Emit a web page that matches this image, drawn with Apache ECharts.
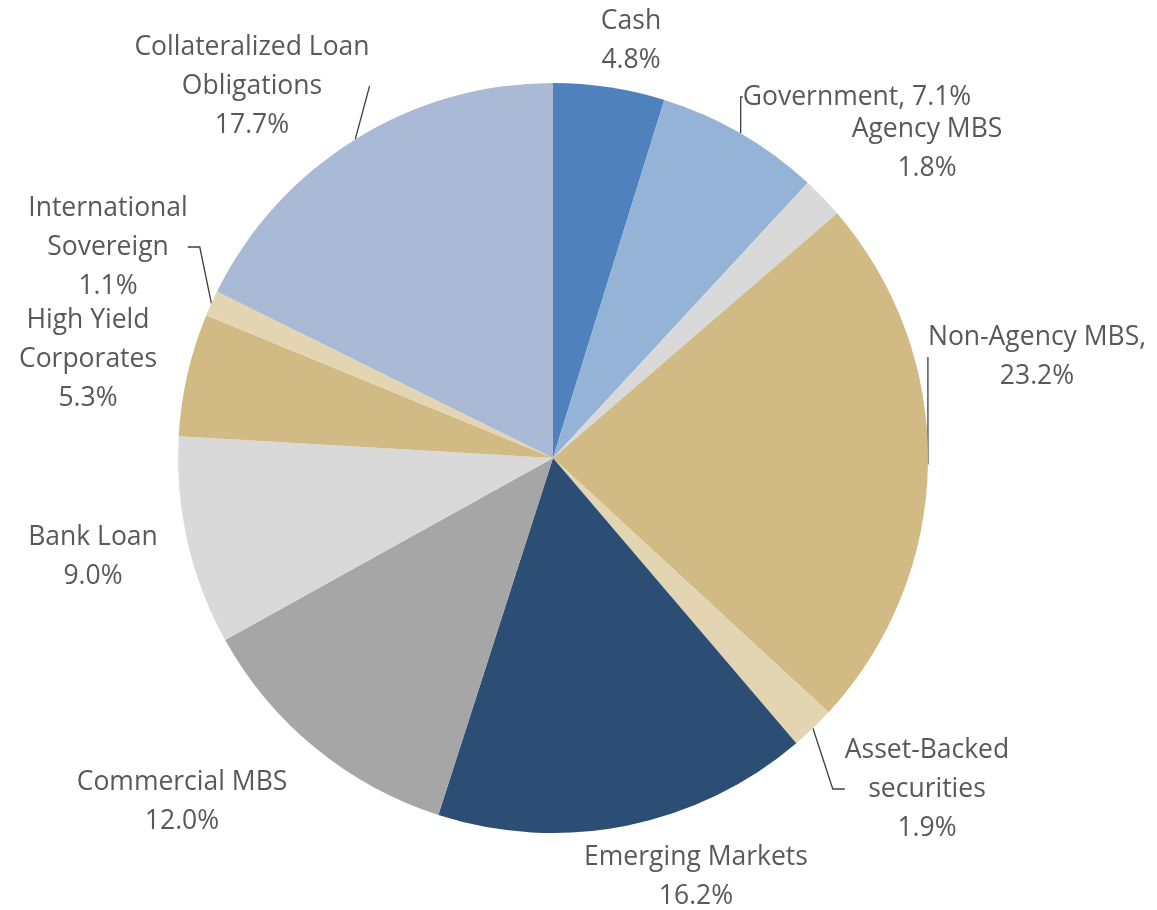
<!DOCTYPE html>
<html>
<head>
<meta charset="utf-8">
<script src="https://cdn.jsdelivr.net/npm/echarts@6/dist/echarts.min.js"></script>
<style>
html,body{margin:0;padding:0;background:#fff;}
#chart{width:1157px;height:910px;}
</style>
</head>
<body>
<div id="chart"></div>
<script>
// ---- data ----
const categories = [
  'Cash', 'Government', 'Agency MBS', 'Non-Agency MBS',
  'Asset-Backed\nsecurities', 'Emerging Markets', 'Commercial MBS',
  'Bank Loan', 'High Yield\nCorporates', 'International\nSovereign',
  'Collateralized Loan\nObligations'
];
const values = [4.8, 7.1, 1.8, 23.2, 1.9, 16.2, 12.0, 9.0, 5.3, 1.1, 17.7];
const separators = ['\n', ', ', '\n', ',\n', '\n', '\n', '\n', '\n', '\n', '\n', '\n'];

// ---- styles / layout ----
const colors = ['#4F81BD', '#95B3D7', '#D9D9D9', '#D1BA84', '#E3D5B1', '#2C4E75',
                '#A6A6A6', '#D9D9D9', '#D1BA84', '#E3D5B1', '#AAB9D6'];
const showLine = [false, true, false, true, true, false, false, false, false, true, true];
const labelPos = [
  [631, 41], [857, 97], [927, 149], [1037, 357], [927, 789], [696, 877],
  [182, 802], [93, 557], [88, 359], [108, 247], [252, 86]
];

const chart = echarts.init(document.getElementById('chart'), null, {renderer: 'canvas'});
const data = categories.map((c, i) => ({
  name: c,
  value: values[i],
  itemStyle: {color: colors[i]},
  labelLine: {show: showLine[i]}
}));

chart.setOption({
  animation: false,
  series: [{
    type: 'pie',
    center: [553, 458],
    radius: 375,
    startAngle: 90,
    clockwise: true,
    data: data,
    itemStyle: {borderWidth: 0},
    label: {
      show: true,
      position: 'outside',
      color: '#595959',
      fontFamily: 'Open Sans',
      fontSize: 26.5,
      lineHeight: 39,
      align: 'center',
      overflow: 'none',
      formatter: p => p.name + separators[p.dataIndex] + values[p.dataIndex].toFixed(1) + '%'
    },
    labelLine: {
      length2: 12,
      lineStyle: {color: '#404040', width: 1.3}
    },
    labelLayout: function (p) {
      const pos = labelPos[p.dataIndex];
      return {x: pos[0], y: pos[1], align: 'center', verticalAlign: 'middle'};
    }
  }]
});
</script>
</body>
</html>
